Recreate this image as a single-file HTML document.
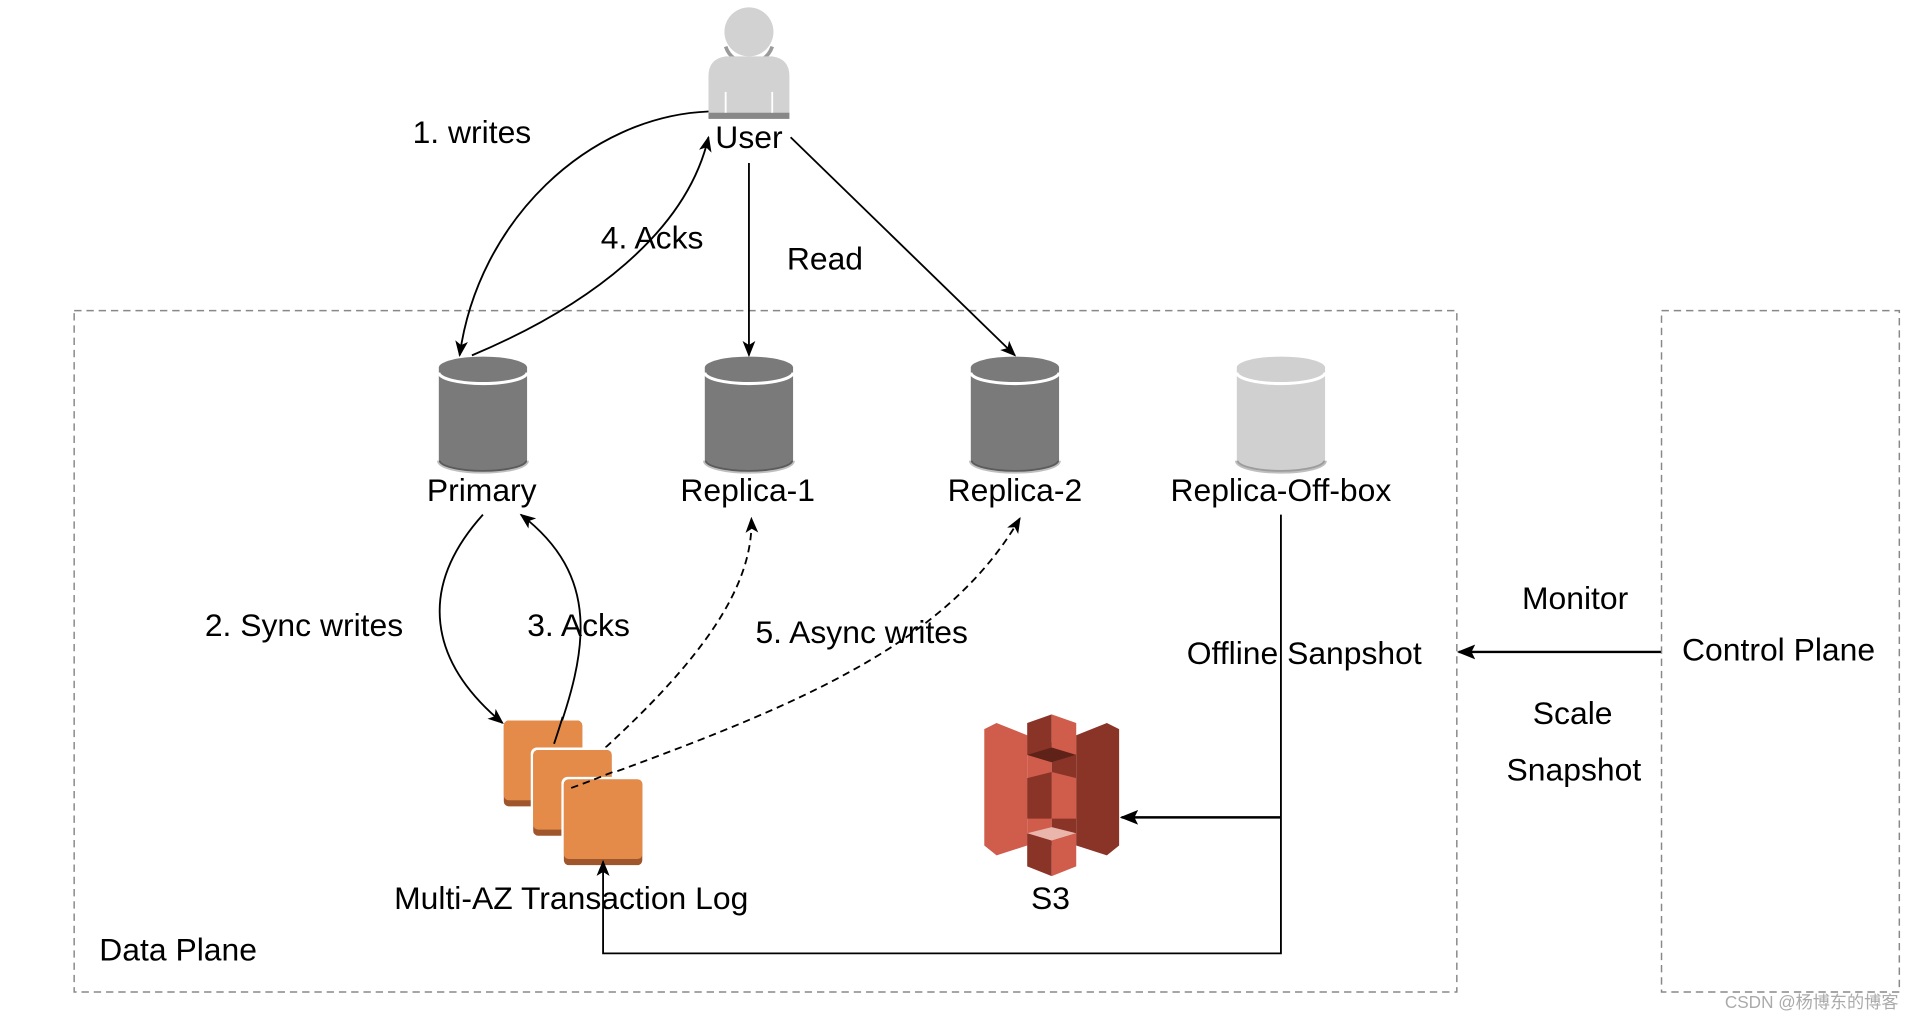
<!DOCTYPE html>
<html><head><meta charset="utf-8"><style>
html,body{margin:0;padding:0;background:#fff;}
svg{display:block;}
text{font-family:"Liberation Sans","Noto Sans CJK SC",sans-serif;font-size:26px;fill:#000;dominant-baseline:middle;}
</style></head><body>
<svg width="1922" height="1022" viewBox="0 0 1568 834" preserveAspectRatio="none" xmlns="http://www.w3.org/2000/svg">
<defs>
<marker id="ah" viewBox="0 0 10 10" refX="9" refY="5" markerWidth="13" markerHeight="13" orient="auto-start-reverse" markerUnits="userSpaceOnUse"><path d="M0,1 L10,5 L0,9 L2.5,5 z" fill="#000"/></marker>
<marker id="ah2" viewBox="0 0 10 10" refX="9" refY="5" markerWidth="15" markerHeight="15" orient="auto" markerUnits="userSpaceOnUse"><path d="M0,1 L10,5 L0,9 L2,5 z" fill="#000"/></marker>
<g id="cyl">
<path d="M-36,8 L-36,84 A36,9 0 0 0 36,84 L36,8 Z" fill="currentColor"/>
<ellipse cx="0" cy="8" rx="36" ry="9" fill="currentColor"/>
<path d="M-36,12 A36,9 0 0 0 36,12" fill="none" stroke="#fff" stroke-width="2.5"/>
<path d="M-36,84 A36,9 0 0 0 36,84" fill="none" stroke="rgba(0,0,0,0.25)" stroke-width="3"/>
</g>
</defs>
<rect x="60.5" y="253.5" width="1128" height="556" fill="none" stroke="#888" stroke-dasharray="6,4" stroke-width="1.2"/>
<rect x="1355.5" y="253.5" width="194" height="556" fill="none" stroke="#888" stroke-dasharray="6,4" stroke-width="1.2"/>
<circle cx="611" cy="26" r="20" fill="#d2d2d2"/>
<path d="M592,38 A20,20 0 0 0 630,38" fill="none" stroke="#9a9a9a" stroke-width="3"/>
<path d="M578,97 L578,62 Q578,48 592,46 L630,46 Q644,48 644,62 L644,97 Z" fill="#d2d2d2"/>
<rect x="578" y="92" width="66" height="5" fill="#888"/>
<line x1="592" y1="75" x2="592" y2="92" stroke="#fff" stroke-width="1.5"/>
<line x1="630" y1="75" x2="630" y2="92" stroke="#fff" stroke-width="1.5"/>
<text x="611" y="114" text-anchor="middle">User</text>
<use href="#cyl" x="394" y="292" style="color:#7a7a7a"/>
<use href="#cyl" x="611" y="292" style="color:#7a7a7a"/>
<use href="#cyl" x="828" y="292" style="color:#7a7a7a"/>
<use href="#cyl" x="1045" y="292" style="color:#d0d0d0"/>
<text x="393" y="402" text-anchor="middle">Primary</text>
<text x="610" y="402" text-anchor="middle">Replica-1</text>
<text x="828" y="402" text-anchor="middle">Replica-2</text>
<text x="1045" y="402" text-anchor="middle">Replica-Off-box</text>
<g fill="none" stroke="#000" stroke-width="1.5">
<path d="M578,91 C480,95 390,180 375,290" marker-end="url(#ah)"/>
<path d="M385,290 C480,250 560,190 578,112" marker-end="url(#ah)"/>
<path d="M611,133 L611,290" marker-end="url(#ah)"/>
<path d="M645,112 L828,290" marker-end="url(#ah)"/>
<path d="M394,420 C340,480 350,540 410,590" marker-end="url(#ah)"/>
<path d="M452,607 C480,530 490,470 425,420" marker-end="url(#ah)"/>
<path d="M494,610 C570,540 615,480 613,423" stroke-dasharray="6,4" marker-end="url(#ah)"/>
<path d="M466,643 C640,580 770,530 832,423" stroke-dasharray="6,4" marker-end="url(#ah)"/>
<path d="M1045,420 L1045,778 L492,778 L492,703" marker-end="url(#ah)"/>
<path d="M1045,667 L915,667" stroke-width="2" marker-end="url(#ah2)"/>
<path d="M1355,532 L1190,532" stroke-width="2" marker-end="url(#ah2)"/>
</g>
<g>
<rect x="411" y="588" width="64" height="70" rx="4" fill="#a0562c"/>
<rect x="411" y="588" width="64" height="65" rx="4" fill="#e48b4a"/>
<rect x="433" y="610" width="68" height="74" rx="5" fill="#fff"/>
<rect x="435" y="612" width="64" height="70" rx="4" fill="#a0562c"/>
<rect x="435" y="612" width="64" height="65" rx="4" fill="#e48b4a"/>
<rect x="458" y="634" width="68" height="74" rx="5" fill="#fff"/>
<rect x="460" y="636" width="64" height="70" rx="4" fill="#a0562c"/>
<rect x="460" y="636" width="64" height="65" rx="4" fill="#e48b4a"/>
</g>
<g fill="none" stroke="#000" stroke-width="1.5">
<path d="M452,607 C455,598 457,592 459,585"/>
<path d="M466,643 C480,638 490,634 500,630" stroke-dasharray="6,4"/>
<path d="M492,710 L492,703" marker-end="url(#ah)"/>
</g>
<g>
<polygon points="803,595 813,590 838,600 838,690 813,698 803,690" fill="#d05c4b"/>
<polygon points="913,595 903,590 878,600 878,690 903,698 913,690" fill="#8a3428"/>
<polygon points="838,600 858,606 858,690 838,690" fill="#d05c4b"/>
<polygon points="858,606 878,600 878,690 858,690" fill="#8a3428"/>
<polygon points="838,590 858,583 858,622 838,616" fill="#8a3428"/>
<polygon points="858,583 878,590 878,616 858,622" fill="#d05c4b"/>
<polygon points="838,616 858,610 878,616 858,622" fill="#5e2219"/>
<polygon points="838,635 858,630 858,668 838,668" fill="#8a3428"/>
<polygon points="858,630 878,635 878,668 858,668" fill="#d05c4b"/>
<polygon points="838,680 858,675 878,680 858,686" fill="#eab5ab"/>
<polygon points="838,680 858,686 858,715 838,707" fill="#8a3428"/>
<polygon points="858,686 878,680 878,707 858,715" fill="#d05c4b"/>
</g>
<text x="385" y="110" text-anchor="middle">1. writes</text>
<text x="532" y="196" text-anchor="middle">4. Acks</text>
<text x="673" y="213" text-anchor="middle">Read</text>
<text x="248" y="512" text-anchor="middle">2. Sync writes</text>
<text x="472" y="512" text-anchor="middle">3. Acks</text>
<text x="703" y="518" text-anchor="middle">5. Async writes</text>
<text x="1064" y="535" text-anchor="middle">Offline Sanpshot</text>
<text x="1285" y="490" text-anchor="middle">Monitor</text>
<text x="1451" y="532" text-anchor="middle">Control Plane</text>
<text x="1283" y="584" text-anchor="middle">Scale</text>
<text x="1284" y="630" text-anchor="middle">Snapshot</text>
<text x="466" y="735" text-anchor="middle">Multi-AZ  Transaction Log</text>
<text x="857" y="735" text-anchor="middle">S3</text>
<text x="81" y="777">Data Plane</text>
<text x="1478" y="819" text-anchor="middle" style="font-size:14px;fill:#aaa">CSDN @杨博东的博客</text>
</svg>
</body></html>
